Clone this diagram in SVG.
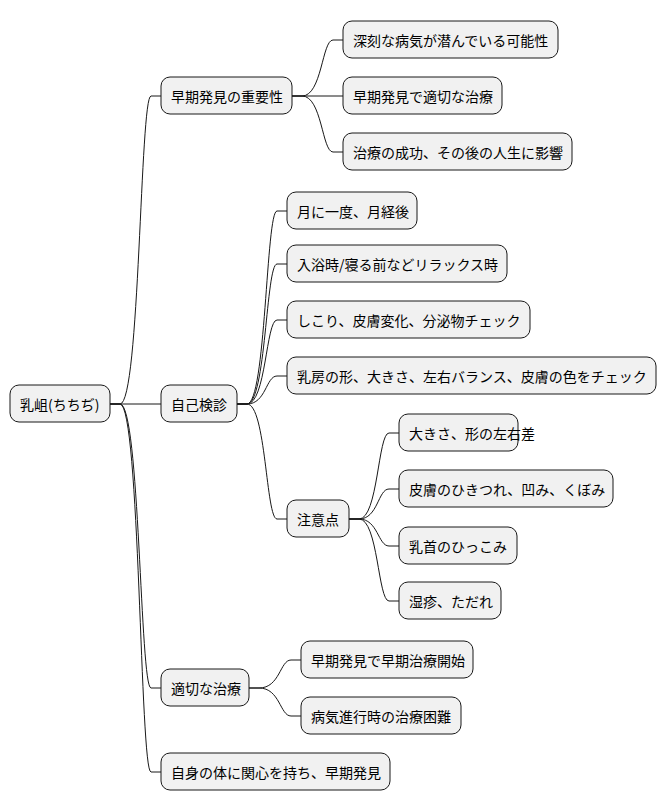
<svg xmlns="http://www.w3.org/2000/svg" width="667" height="809" viewBox="0 0 667 809">
<style>
rect{fill:#F1F1F1;stroke:#181818;stroke-width:1}
text{font-family:"Noto Sans CJK JP","Liberation Sans",sans-serif;font-size:14px;fill:#000;dominant-baseline:central}
#connectors path{fill:none;stroke:#181818;stroke-width:1}
</style>
<rect x="0" y="0" width="667" height="809" style="fill:#fff;stroke:none"/>
<g id="connectors">
<path d="M110,404 L120,404 C140,404 140,96 151,96 L161,96"/>
<path d="M110,404 L161,404"/>
<path d="M110,404 L120,404 C140,404 140,688 151,688 L161,688"/>
<path d="M110,404 L120,404 C140,404 140,772 151,772 L161,772"/>
<path d="M292,96 L302,96 C322,96 322,40 333,40 L343,40"/>
<path d="M292,96 L343,96"/>
<path d="M292,96 L302,96 C322,96 322,152 333,152 L343,152"/>
<path d="M237,404 L247,404 C266,404 266,211 277,211 L287,211"/>
<path d="M237,404 L247,404 C266,404 266,264 277,264 L287,264"/>
<path d="M237,404 L247,404 C266,404 266,320 277,320 L287,320"/>
<path d="M237,404 L247,404 C266,404 266,376 277,376 L287,376"/>
<path d="M237,404 L247,404 C266,404 266,519 277,519 L287,519"/>
<path d="M349,519 L359,519 C378,519 378,433 389,433 L399,433"/>
<path d="M349,519 L359,519 C378,519 378,489 389,489 L399,489"/>
<path d="M349,519 L359,519 C378,519 378,546 389,546 L399,546"/>
<path d="M349,519 L359,519 C378,519 378,601 389,601 L399,601"/>
<path d="M249,688 L259,688 C280,688 280,660 291,660 L301,660"/>
<path d="M249,688 L259,688 C280,688 280,716 291,716 L301,716"/>
</g>
<g id="root"><rect x="10" y="385" width="100" height="37" rx="9"/><text x="20" y="404">乳岨(ちちぢ)</text></g>
<g id="n1"><rect x="161" y="77" width="131" height="37" rx="9"/><text x="171" y="96">早期発見の重要性</text></g>
<g id="n2"><rect x="161" y="385" width="76" height="37" rx="9"/><text x="171" y="404">自己検診</text></g>
<g id="n3"><rect x="161" y="669" width="88" height="37" rx="9"/><text x="171" y="688">適切な治療</text></g>
<g id="n4"><rect x="161" y="753" width="229" height="37" rx="9"/><text x="171" y="772">自身の体に関心を持ち、早期発見</text></g>
<g id="n11"><rect x="343" y="21" width="215" height="37" rx="9"/><text x="353" y="40">深刻な病気が潜んでいる可能性</text></g>
<g id="n12"><rect x="343" y="77" width="159" height="37" rx="9"/><text x="353" y="96">早期発見で適切な治療</text></g>
<g id="n13"><rect x="343" y="133" width="229" height="37" rx="9"/><text x="353" y="152">治療の成功、その後の人生に影響</text></g>
<g id="n21"><rect x="287" y="192" width="130" height="37" rx="9"/><text x="297" y="211">月に一度、月経後</text></g>
<g id="n22"><rect x="287" y="245" width="220" height="37" rx="9"/><text x="297" y="264">入浴時/寝る前などリラックス時</text></g>
<g id="n23"><rect x="287" y="301" width="243" height="37" rx="9"/><text x="297" y="320">しこり、皮膚変化、分泌物チェック</text></g>
<g id="n24"><rect x="287" y="357" width="369" height="37" rx="9"/><text x="297" y="376">乳房の形、大きさ、左右バランス、皮膚の色をチェック</text></g>
<g id="n25"><rect x="287" y="500" width="62" height="37" rx="9"/><text x="297" y="519">注意点</text></g>
<g id="n251"><rect x="399" y="414" width="119" height="37" rx="9"/><text x="409" y="433">大きさ、形の左右差</text></g>
<g id="n252"><rect x="399" y="470" width="214" height="37" rx="9"/><text x="409" y="489">皮膚のひきつれ、凹み、くぼみ</text></g>
<g id="n253"><rect x="399" y="527" width="118" height="37" rx="9"/><text x="409" y="546">乳首のひっこみ</text></g>
<g id="n254"><rect x="399" y="582" width="102" height="37" rx="9"/><text x="409" y="601">湿疹、ただれ</text></g>
<g id="n31"><rect x="301" y="641" width="172" height="37" rx="9"/><text x="311" y="660">早期発見で早期治療開始</text></g>
<g id="n32"><rect x="301" y="697" width="160" height="37" rx="9"/><text x="311" y="716">病気進行時の治療困難</text></g>
</svg>
